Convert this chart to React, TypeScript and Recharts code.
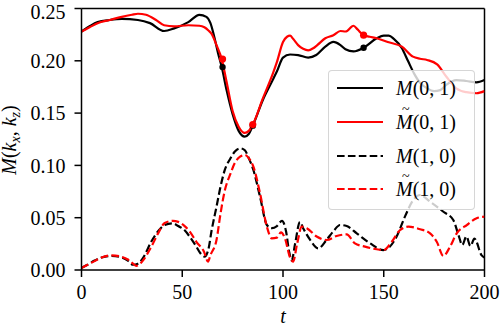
import React from 'react'
import { LineChart, Line, XAxis, YAxis, ReferenceLine, Legend } from 'recharts'

const FONT = "'Liberation Serif', 'Times New Roman', serif"

// M(0,1), solid black
const tM01 = [0, 4, 8, 14, 20, 28, 34, 41, 46, 53, 58.5, 62, 64, 66, 67.8, 69.6, 72, 75, 78, 81, 83, 85, 90, 95, 97, 100, 103.5, 107.5, 112.5, 116.5, 121, 125, 128.5, 131, 135, 140, 146.5, 150, 152.5, 155, 159, 162, 165, 168, 171.5, 175, 178, 181, 186, 191, 196, 200]
const vM01 = [0.228, 0.233, 0.237, 0.239, 0.24, 0.239, 0.236, 0.2285, 0.231, 0.237, 0.244, 0.242, 0.236, 0.222, 0.207, 0.194, 0.172, 0.149, 0.133, 0.1275, 0.13, 0.138, 0.1625, 0.182, 0.19, 0.203, 0.206, 0.2055, 0.203, 0.2055, 0.2135, 0.218, 0.215, 0.211, 0.209, 0.2125, 0.2215, 0.224, 0.224, 0.221, 0.212, 0.2, 0.188, 0.179, 0.1737, 0.171, 0.172, 0.177, 0.1816, 0.1807, 0.1794, 0.1816]

// M~(0,1), solid red
const tMt01 = [0, 4, 8, 14, 20, 25, 28, 32, 37, 41, 46, 53, 58.5, 61, 63, 64.5, 67, 69.6, 72, 75, 78, 81, 83, 85, 90, 95, 97, 100, 102, 103.5, 105, 107.5, 110, 112.5, 115, 117, 121, 125, 128.5, 131, 135, 137, 140, 143, 146.5, 152, 159, 164.5, 168, 171.5, 176.5, 181, 186, 191, 196, 200]
const vMt01 = [0.228, 0.232, 0.236, 0.239, 0.242, 0.244, 0.245, 0.244, 0.239, 0.234, 0.233, 0.234, 0.2335, 0.232, 0.229, 0.226, 0.215, 0.2017, 0.18, 0.152, 0.137, 0.131, 0.133, 0.139, 0.164, 0.188, 0.199, 0.218, 0.223, 0.224, 0.221, 0.215, 0.2115, 0.21, 0.212, 0.215, 0.2215, 0.2245, 0.2285, 0.228, 0.2335, 0.23, 0.2245, 0.223, 0.2215, 0.218, 0.2135, 0.204, 0.202, 0.2008, 0.1966, 0.185, 0.1737, 0.17, 0.169, 0.171]

// M(1,0), dashed black
const tM10 = [0, 3, 6.5, 10, 15, 20, 23, 25.6, 28, 31, 34.6, 38, 41.3, 45.4, 48, 51.2, 54, 57, 59, 61, 63, 64.5, 67, 69, 71, 74, 76, 78.7, 81, 83, 85.3, 88.6, 92, 94.5, 97, 99.5, 101.5, 103, 104.3, 106, 108.4, 110, 113.4, 117.5, 121.7, 125, 128.3, 131.6, 136.6, 143.2, 149.8, 152.3, 156.4, 160.5, 164.7, 168, 173, 179.6, 184.5, 187, 189, 191, 193, 195, 198.6, 200]
const vM10 = [0.002, 0.005, 0.009, 0.012, 0.0134, 0.012, 0.009, 0.005, 0.006, 0.013, 0.027, 0.037, 0.043, 0.0446, 0.042, 0.038, 0.031, 0.0223, 0.016, 0.0127, 0.02, 0.037, 0.0605, 0.0797, 0.095, 0.107, 0.113, 0.1163, 0.1147, 0.107, 0.0956, 0.07, 0.043, 0.04, 0.042, 0.047, 0.037, 0.018, 0.009, 0.025, 0.046, 0.04, 0.029, 0.0207, 0.029, 0.037, 0.043, 0.042, 0.035, 0.0255, 0.019, 0.021, 0.032, 0.051, 0.067, 0.0717, 0.0653, 0.0557, 0.0478, 0.034, 0.024, 0.032, 0.023, 0.03, 0.014, 0.012]

// M~(1,0), dashed red
const tMt10 = [0, 3, 6.5, 10, 15, 20, 23, 25.6, 27.2, 30, 34.6, 38, 41.3, 45.4, 48, 51.2, 54, 57, 60.8, 62.8, 64, 67, 69, 71, 74, 76, 78.7, 81, 83, 85.3, 88.6, 92, 94.4, 97, 99, 101, 103.5, 105, 107, 109.3, 111.8, 116.7, 121.7, 126.6, 131.6, 135.7, 140.7, 146.5, 149.8, 154, 158, 162.2, 168, 173, 176.3, 179.6, 182.9, 186.2, 191.2, 196.1, 200]
const vMt10 = [0.002, 0.005, 0.0085, 0.012, 0.014, 0.0125, 0.01, 0.006, 0.004, 0.008, 0.022, 0.035, 0.045, 0.047, 0.046, 0.042, 0.036, 0.027, 0.0175, 0.008, 0.0143, 0.0287, 0.054, 0.075, 0.0924, 0.102, 0.1083, 0.11, 0.107, 0.0988, 0.0733, 0.0414, 0.0303, 0.031, 0.036, 0.03, 0.012, 0.008, 0.025, 0.0414, 0.04, 0.032, 0.0287, 0.0325, 0.034, 0.0255, 0.0223, 0.0198, 0.019, 0.027, 0.038, 0.0414, 0.039, 0.035, 0.027, 0.0134, 0.0223, 0.035, 0.043, 0.0494, 0.051]

// snapshot markers on the solid curves
const tMarks = [70, 85, 140]
const vMarksM01 = [0.194, 0.138, 0.2125]
const vMarksMt01 = [0.2017, 0.139, 0.2245]

const xTicks = [0, 50, 100, 150, 200]
const yTicks = [0, 0.05, 0.1, 0.15, 0.2, 0.25]

const legendItems = [
  { args: '(0, 1)', tilde: false, color: '#000000', dashed: false },
  { args: '(0, 1)', tilde: true, color: '#ff0000', dashed: false },
  { args: '(1, 0)', tilde: false, color: '#000000', dashed: true },
  { args: '(1, 0)', tilde: true, color: '#ff0000', dashed: true },
]

const zip = (ts: number[], vs: number[]) => ts.map((t, i) => ({ t, m: vs[i] }))

const DASH = '7.6 3.3'

function MathM({ tilde }: { tilde: boolean }) {
  return (
    <span style={{ position: 'relative', fontStyle: 'italic', display: 'inline-block' }}>
      M
      {tilde && (
        <span style={{ position: 'absolute', left: 6, top: -7, fontStyle: 'normal', fontSize: 14, lineHeight: '14px' }}>~</span>
      )}
    </span>
  )
}

function LegendBox() {
  return (
    <div
      style={{
        width: 147,
        height: 140,
        boxSizing: 'border-box',
        border: '1px solid rgba(204,204,204,0.8)',
        borderRadius: 4,
        background: 'rgba(255,255,255,0.8)',
        position: 'relative',
        fontFamily: FONT,
        fontSize: 20,
        color: '#000',
      }}
    >
      {legendItems.map((it, i) => (
        <div
          key={i}
          style={{ position: 'absolute', left: 8, top: 16.7 + i * 33.9 - 12, height: 24, display: 'flex', alignItems: 'center' }}
        >
          <svg width={46} height={4} style={{ display: 'block' }}>
            <line x1={0} y1={2} x2={46} y2={2} stroke={it.color} strokeWidth={2.2} strokeDasharray={it.dashed ? DASH : undefined} />
          </svg>
          <span style={{ marginLeft: 13, whiteSpace: 'nowrap', lineHeight: '24px' }}>
            <MathM tilde={it.tilde} />
            {it.args}
          </span>
        </div>
      ))}
    </div>
  )
}

function XTitle(props: any) {
  const vb = props.viewBox || { x: 81.5, width: 403 }
  return (
    <text x={vb.x + vb.width / 2} y={323} textAnchor="middle" fontFamily={FONT} fontSize={20} fontStyle="italic" fill="#000">
      t
    </text>
  )
}

function YTitle() {
  const cx = 16
  const cy = 140
  return (
    <text x={cx} y={cy} transform={`rotate(-90, ${cx}, ${cy})`} textAnchor="middle" fontFamily={FONT} fontSize={20} fill="#000">
      <tspan fontStyle="italic">M</tspan>
      <tspan>(</tspan>
      <tspan fontStyle="italic">k</tspan>
      <tspan fontStyle="italic" fontSize={14} dy={4}>x</tspan>
      <tspan dy={-4}>, </tspan>
      <tspan fontStyle="italic">k</tspan>
      <tspan fontStyle="italic" fontSize={14} dy={4}>z</tspan>
      <tspan dy={-4}>)</tspan>
    </text>
  )
}

const tickStyle = { fontSize: 20, fill: '#000', fontFamily: FONT }
const axisStroke = { stroke: '#000', strokeWidth: 1.5 }

export default function App() {
  return (
    <div style={{ position: 'absolute', left: 0, top: 0, width: 500, height: 326, background: '#fff', fontFamily: FONT }}>
      <LineChart width={500} height={326} margin={{ top: 8.5, right: 15.5, bottom: 0, left: 0 }} style={{ fontFamily: FONT }}>
        <XAxis
          type="number"
          dataKey="t"
          domain={[0, 200]}
          ticks={xTicks}
          allowDataOverflow
          height={56}
          tick={tickStyle}
          tickSize={7}
          tickMargin={8}
          axisLine={axisStroke}
          tickLine={axisStroke}
          label={<XTitle />}
        />
        <YAxis
          type="number"
          dataKey="m"
          domain={[0, 0.25]}
          ticks={yTicks}
          allowDataOverflow
          width={81.5}
          tickFormatter={(v: number) => v.toFixed(2)}
          tick={tickStyle}
          tickSize={7}
          tickMargin={9}
          axisLine={axisStroke}
          tickLine={axisStroke}
          label={<YTitle />}
        />
        <ReferenceLine y={0.25} stroke="#000" strokeWidth={1.5} />
        <ReferenceLine x={200} stroke="#000" strokeWidth={1.5} />
        <Line data={zip(tM01, vM01)} dataKey="m" type="monotone" stroke="#000000" strokeWidth={2.2} dot={false} activeDot={false} isAnimationActive={false} />
        <Line data={zip(tMt01, vMt01)} dataKey="m" type="monotone" stroke="#ff0000" strokeWidth={2.2} dot={false} activeDot={false} isAnimationActive={false} />
        <Line data={zip(tM10, vM10)} dataKey="m" type="monotone" stroke="#000000" strokeWidth={2.2} strokeDasharray={DASH} dot={false} activeDot={false} isAnimationActive={false} />
        <Line data={zip(tMt10, vMt10)} dataKey="m" type="monotone" stroke="#ff0000" strokeWidth={2.2} strokeDasharray={DASH} dot={false} activeDot={false} isAnimationActive={false} />
        <Line data={zip(tMarks, vMarksM01)} dataKey="m" stroke="none" dot={{ r: 3.2, fill: '#000', stroke: 'none' }} activeDot={false} isAnimationActive={false} />
        <Line data={zip(tMarks, vMarksMt01)} dataKey="m" stroke="none" dot={{ r: 3.6, fill: '#ff0000', stroke: 'none' }} activeDot={false} isAnimationActive={false} />
        <Legend
          content={<LegendBox />}
          layout="vertical"
          align="center"
          verticalAlign="middle"
          wrapperStyle={{ left: 328, top: 70, width: 147, height: 140 }}
        />
      </LineChart>
    </div>
  )
}
